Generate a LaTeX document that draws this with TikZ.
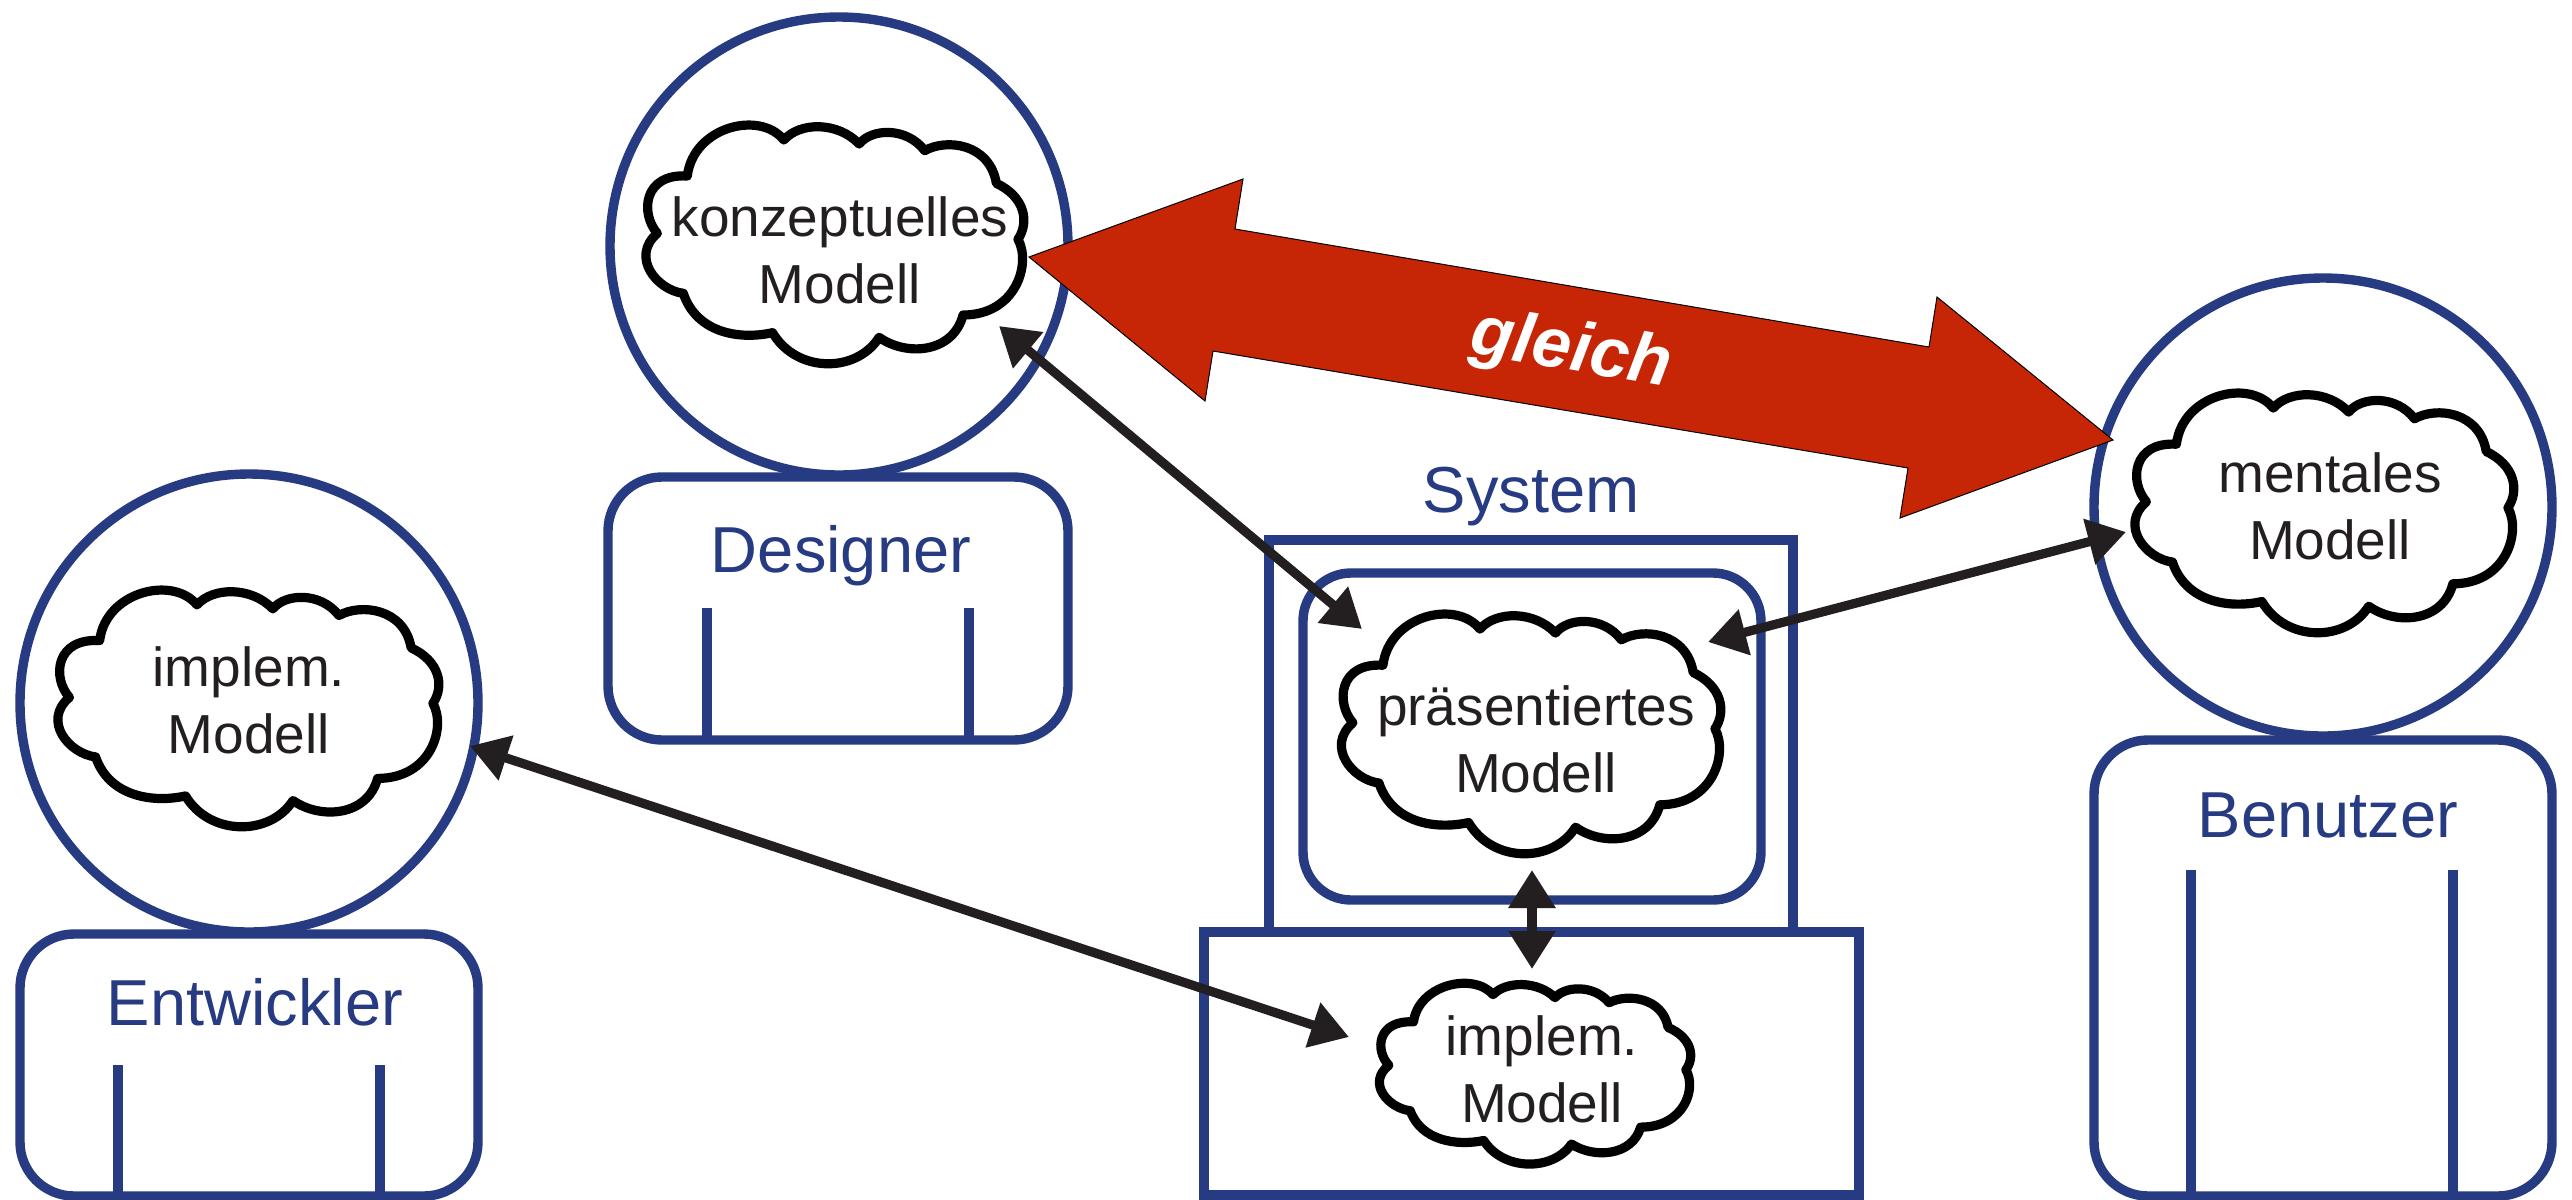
\documentclass[tikz,border=0pt]{standalone}
\usepackage{fontspec}
\setmainfont{Liberation Sans}
\usetikzlibrary{arrows.meta}
\definecolor{mblue}{HTML}{273B82}
\definecolor{mred}{HTML}{C62606}
\definecolor{mink}{HTML}{231F20}
\tikzset{
  head/.style={circle,draw=mblue,line width=4.7pt,fill=white,inner sep=0pt,outer sep=0pt,minimum size=229pt},
  personbox/.style={rectangle,rounded corners=27pt,draw=mblue,line width=4.7pt,inner sep=0pt,outer sep=0pt,fill=white},
  sysbox/.style={rectangle,draw=mblue,line width=4.7pt,inner sep=0pt,outer sep=0pt},
  leg/.style={draw=mblue,line width=4.7pt},
  cloudline/.style={draw=black,fill=white,line width=4.6pt,line join=round},
  modeltext/.style={font=\fontsize{27.5pt}{33.3pt}\selectfont,text=mink,align=center,anchor=base,inner sep=0pt},
  bluetext/.style={font=\fontsize{32.5pt}{38pt}\selectfont,text=mblue,anchor=base,inner sep=0pt},
  link/.style={draw=mink,line width=4.6pt,{Triangle[length=19pt,width=22.5pt]}-{Triangle[length=19pt,width=22.5pt]}},
  biglink/.style={draw=black,line width=0.5pt,fill=mred,line join=miter}
}
\newcommand\cloudat[4]{%
  \pgfmathsetmacro\csx{(#3-#1)/1132}%
  \pgfmathsetmacro\csy{(#4-#2)/717}%
  \begin{scope}[shift={(#1,#2)},xscale=\csx,yscale=\csy,shift={(-138,-378)}]
    \path[cloudline] (262,528)
      .. controls (280,380) and (480,330) .. (552,420)
      .. controls (600,365) and (715,365) .. (778,432)
      .. controls (815,385) and (920,380) .. (975,452)
      .. controls (1040,415) and (1170,430) .. (1190,550)
      .. controls (1275,590) and (1290,665) .. (1255,718)
      .. controls (1295,790) and (1250,945) .. (1090,945)
      .. controls (1060,1060) and (920,1070) .. (838,1012)
      .. controls (770,1120) and (590,1120) .. (518,998)
      .. controls (420,1020) and (290,1000) .. (250,880)
      .. controls (170,870) and (90,770) .. (172,700)
      .. controls (120,640) and (130,520) .. (262,528) -- cycle;
  \end{scope}}
\begin{document}
\begin{tikzpicture}[x=0.5pt,y=-0.5pt]
\useasboundingbox (0,0) rectangle (2572,1200);
% persons
\node[personbox,minimum width=230pt,minimum height=131.5pt] (designerbox) at (838,608.5) {};
\node[head] (designerhead) at (839,246) {};
\node[personbox,minimum width=229pt,minimum height=131pt] (entwicklerbox) at (249,1065) {};
\node[head] (entwicklerhead) at (249,703) {};
\node[personbox,minimum width=229pt,minimum height=228pt] (benutzerbox) at (2323,968) {};
\node[head] (benutzerhead) at (2323,507) {};
\draw[leg] (707,608) -- (707,0 |- designerbox.south);
\draw[leg] (969,608) -- (969,0 |- designerbox.south);
\draw[leg] (118,1065) -- (118,0 |- entwicklerbox.south);
\draw[leg] (380,1065) -- (380,0 |- entwicklerbox.south);
\draw[leg] (2191,870) -- (2191,0 |- benutzerbox.south);
\draw[leg] (2453,870) -- (2453,0 |- benutzerbox.south);
% system
\node[sysbox,minimum width=262pt,minimum height=196pt] (sysscreen) at (1531,736) {};
\node[sysbox,minimum width=327.5pt,minimum height=131.5pt] (sysbase) at (1531.5,1063.5) {};
\node[personbox,fill=none,rounded corners=24pt,minimum width=229pt,minimum height=163.5pt] (sysinner) at (1532,736.5) {};
% clouds
\cloudat{646}{126}{1023}{365}
\cloudat{58}{591}{438}{828}
\cloudat{2135}{394}{2513}{634}
\cloudat{1341.5}{615}{1720}{855}
\cloudat{1379.5}{984}{1690}{1165}
% model labels
\node[modeltext] (konz) at (840,303) {konzeptuelles\\Modell};
\node[modeltext] (implA) at (249,753.5) {implem.\\Modell};
\node[modeltext] (ment) at (2330,559) {mentales\\Modell};
\node[modeltext] (praes) at (1536,792) {präsentiertes\\Modell};
\node[modeltext] (implB) at (1542,1122) {implem.\\Modell};
% blue labels
\node[bluetext] (lsystem) at (1531,512) {System};
\node[bluetext] (ldesigner) at (841,572) {Designer};
\node[bluetext] (lentwickler) at (255,1025) {Entwickler};
\node[bluetext] (lbenutzer) at (2328,837) {Benutzer};
% arrow ends
\coordinate (konzEnd) at (999,326);
\coordinate (praesA) at (1362,629);
\coordinate (praesB) at (1708,642);
\coordinate (mentEnd) at (2126,532);
\coordinate (implAEnd) at (470,746);
\coordinate (implBEnd) at (1349,1037);
\coordinate (praesC) at (1532,870);
\coordinate (implBTop) at (1532,969);
\draw[link] (konzEnd) -- (praesA);
\draw[link] (praesB) -- (mentEnd);
\draw[link] (implAEnd) -- (implBEnd);
\draw[link] (praesC) -- (implBTop);
% big arrow
\draw[biglink] (1029,257) -- (1243,179) -- (1235,229) -- (1929,347) -- (1937,297)
  -- (2113,440) -- (1900,518) -- (1908,468) -- (1213,351) -- (1205,401) -- cycle;
\node[font=\fontsize{35pt}{40pt}\selectfont\bfseries\itshape,text=white,rotate=-9.6,inner sep=0pt] (gleich) at (1571,352) {gleich};
\end{tikzpicture}
\end{document}
